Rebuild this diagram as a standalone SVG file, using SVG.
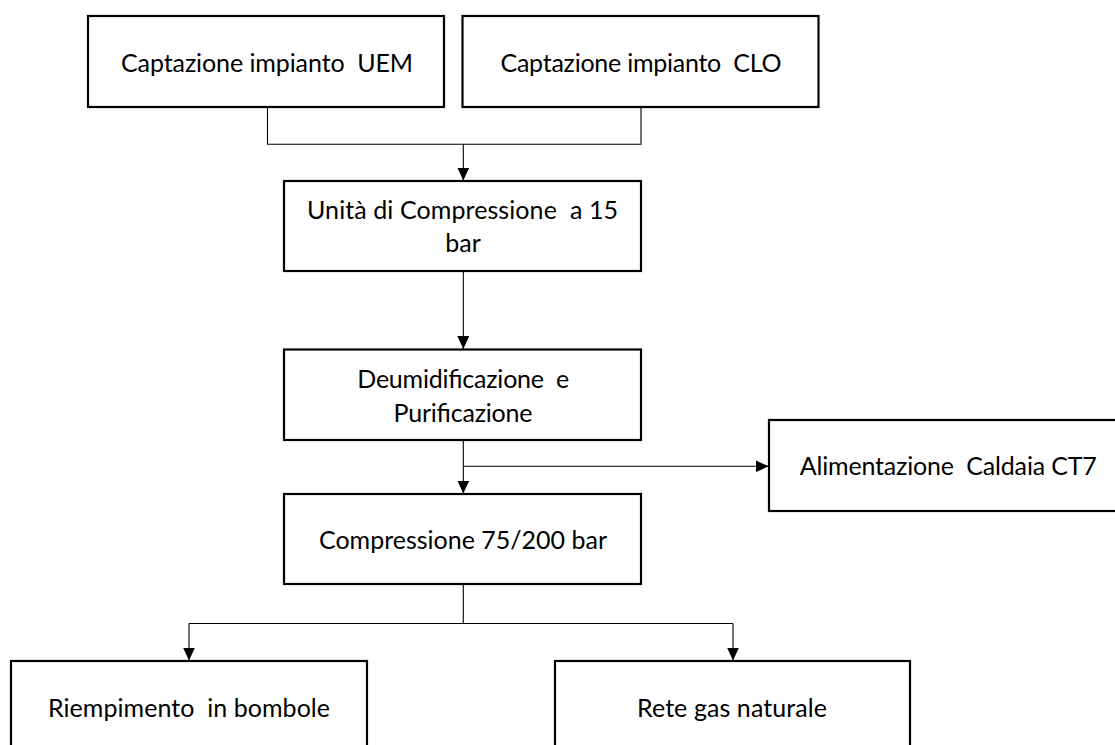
<svg xmlns="http://www.w3.org/2000/svg" width="1115" height="745" viewBox="0 0 1115 745">
<style>
.box{fill:#fff;stroke:#000;stroke-width:2.2}
.lbl{font-family:Lato,"Open Sans","Liberation Sans",sans-serif;font-size:25px;fill:#000;text-anchor:middle;white-space:pre}
.con{fill:none;stroke:#000;stroke-width:1.1}
</style>
<defs>
<marker id="arr" viewBox="0 0 13 12" refX="13" refY="6" markerWidth="13" markerHeight="12" orient="auto" markerUnits="userSpaceOnUse">
<path d="M0,0 L13,6 L0,12 z" fill="#000"/>
</marker>
</defs>
<rect width="1115" height="745" fill="#fff"/>
<g id="connectors">
<path class="con" d="M267.5,107 V144.3 H641 V107"/>
<path class="con" d="M463.3,144.3 V180.5" marker-end="url(#arr)"/>
<path class="con" d="M463.3,271 V349" marker-end="url(#arr)"/>
<path class="con" d="M463.3,440 V493.5" marker-end="url(#arr)"/>
<path class="con" d="M463.3,466.3 H768.5" marker-end="url(#arr)"/>
<path class="con" d="M463.3,584 V623.5"/>
<path class="con" d="M189,623.5 H733"/>
<path class="con" d="M189,623.5 V660.5" marker-end="url(#arr)"/>
<path class="con" d="M733,623.5 V660.5" marker-end="url(#arr)"/>
</g>
<g id="uem">
<rect class="box" x="88" y="16" width="356" height="91"/>
<text class="lbl" x="267" y="71.5" textLength="292" lengthAdjust="spacing">Captazione impianto  UEM</text>
</g>
<g id="clo">
<rect class="box" x="462.5" y="16" width="356" height="91"/>
<text class="lbl" x="641" y="71.5" textLength="281" lengthAdjust="spacing">Captazione impianto  CLO</text>
</g>
<g id="compressione15">
<rect class="box" x="284" y="181" width="357" height="90"/>
<text class="lbl" x="462.5" y="219.3" textLength="311" lengthAdjust="spacing">Unità di Compressione  a 15</text>
<text class="lbl" x="463" y="252.3">bar</text>
</g>
<g id="deumidificazione">
<rect class="box" x="284" y="349.5" width="357" height="90.5"/>
<text class="lbl" x="463.3" y="388.3" textLength="212" lengthAdjust="spacing">Deumidificazione  e</text>
<text class="lbl" x="463" y="422.3" textLength="139" lengthAdjust="spacing">Purificazione</text>
</g>
<g id="compressione200">
<rect class="box" x="284" y="494" width="357" height="90"/>
<text class="lbl" x="463" y="549.3" textLength="288" lengthAdjust="spacing">Compressione 75/200 bar</text>
</g>
<g id="caldaia">
<rect class="box" x="769" y="420" width="357" height="91"/>
<text class="lbl" x="948.3" y="475" textLength="297" lengthAdjust="spacing">Alimentazione  Caldaia CT7</text>
</g>
<g id="bombole">
<rect class="box" x="11" y="661" width="356" height="91"/>
<text class="lbl" x="189" y="716.7" textLength="282" lengthAdjust="spacing">Riempimento  in bombole</text>
</g>
<g id="rete">
<rect class="box" x="555" y="661" width="355" height="91"/>
<text class="lbl" x="732" y="716.7" textLength="190" lengthAdjust="spacing">Rete gas naturale</text>
</g>
</svg>
